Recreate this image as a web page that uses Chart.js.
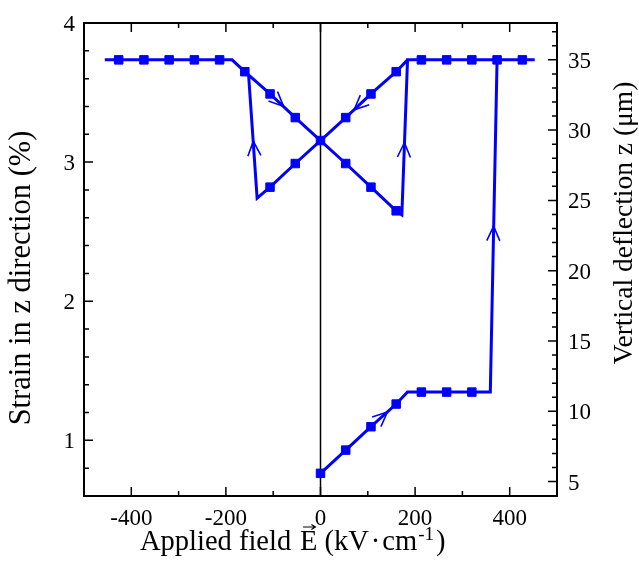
<!DOCTYPE html>
<html>
<head>
<meta charset="utf-8">
<script src="https://cdn.jsdelivr.net/npm/chart.js@4.4.1/dist/chart.umd.min.js"></script>
<style>
  body { margin: 0; background: #fff; }
  canvas { display: block; }
</style>
</head>
<body>
<canvas id="chart" width="639" height="572"></canvas>
<script>
// hysteresis path, in the order it was measured (kV/cm, %)
const pathE = [0, 53.3, 106.7, 160, 184, 213.3, 266.7, 320, 359, 373.3, 426.7, 453,
  184, 160, 106.7, 53.3, 0, -53.3, -106.7, -134, -152, -160, -187, -456,
  -187, -160, -106.7, -53.3, 0, 53.3, 106.7, 160, 172, 184, 213.3];
const pathS = [0.763, 0.93, 1.098, 1.261, 1.347, 1.347, 1.347, 1.347, 1.347, 3.735, 3.735, 3.735,
  3.735, 3.65, 3.49, 3.32, 3.155, 2.99, 2.82, 2.741, 3.625, 3.65, 3.735, 3.735,
  3.735, 3.65, 3.49, 3.32, 3.155, 2.99, 2.82, 2.65, 2.62, 3.735, 3.735];

// measured points (square markers)
const markE = [-426.7, -373.3, -320, -266.7, -213.3, 213.3, 266.7, 320, 373.3, 426.7,
  -160, -106.7, -53.3, 0, 53.3, 106.7, 160,
  160, 106.7, 53.3, -53.3, -106.7,
  0, 53.3, 106.7, 160, 213.3, 266.7, 320];
const markS = [3.735, 3.735, 3.735, 3.735, 3.735, 3.735, 3.735, 3.735, 3.735, 3.735,
  3.65, 3.49, 3.32, 3.155, 2.99, 2.82, 2.65,
  3.65, 3.49, 3.32, 2.99, 2.82,
  0.763, 0.93, 1.098, 1.261, 1.347, 1.347, 1.347];

// direction arrows: tip E, tip S, heading toward E, S
const arrows = [
  [-78, 3.40, -53.3, 3.32],
  [-142, 3.15, -152, 3.625],
  [71, 3.376, 53.3, 3.32],
  [177.5, 3.14, 184, 3.735],
  [366, 2.54, 373.3, 3.735],
  [141.4, 1.204, 160, 1.261]
];

// axes
const xRange = [-500, 500], xMinor = 100, xLabels = [-400, -200, 0, 200, 400];
const yRange = [0.6, 4], yMinor = 0.2, yLabels = [1, 2, 3, 4];
const y2Range = [3.97, 37.62], y2Minor = 1, y2Labels = [5, 10, 15, 20, 25, 30, 35];

const blue = '#0000ff';
const serif = "'Liberation Serif', serif";
const tickFont = '23px ' + serif;

function stepTicks(range, step) {
  const out = [];
  const start = Math.ceil(range[0] / step - 1e-9);
  const end = Math.floor(range[1] / step + 1e-9);
  for (let k = start; k <= end; k++) out.push({ value: Math.round(k * step * 1000) / 1000 });
  return out;
}

function isLabel(list, v) {
  return list.some(l => Math.abs(l - v) < 1e-6);
}

const framePlugin = {
  id: 'framePlugin',
  beforeDatasetsDraw(chart) {
    // vertical line at E = 0
    const { ctx, chartArea: a, scales } = chart;
    const x0 = scales.x.getPixelForValue(0);
    ctx.save();
    ctx.strokeStyle = '#000';
    ctx.lineWidth = 1.5;
    ctx.beginPath();
    ctx.moveTo(x0, a.top);
    ctx.lineTo(x0, a.bottom);
    ctx.stroke();
    ctx.restore();
  },
  afterDatasetsDraw(chart) {
    const { ctx, scales } = chart;
    ctx.save();
    ctx.strokeStyle = blue;
    ctx.lineWidth = 1.6;
    arrows.forEach(ar => {
      const tx = scales.x.getPixelForValue(ar[0]);
      const ty = scales.y.getPixelForValue(ar[1]);
      const dx = scales.x.getPixelForValue(ar[2]) - tx;
      const dy = scales.y.getPixelForValue(ar[3]) - ty;
      const ang = Math.atan2(dy, dx);
      const len = 16, spread = 0.42;
      ctx.beginPath();
      ctx.moveTo(tx - len * Math.cos(ang - spread), ty - len * Math.sin(ang - spread));
      ctx.lineTo(tx, ty);
      ctx.lineTo(tx - len * Math.cos(ang + spread), ty - len * Math.sin(ang + spread));
      ctx.stroke();
    });
    ctx.restore();
  },
  afterDraw(chart) {
    const { ctx, chartArea: a, scales } = chart;
    ctx.save();
    ctx.strokeStyle = '#000';
    ctx.lineWidth = 2;
    ctx.strokeRect(a.left, a.top, a.right - a.left, a.bottom - a.top);

    // inward tick marks
    ctx.lineWidth = 1.5;
    ctx.beginPath();
    scales.x.ticks.forEach(t => {
      const p = scales.x.getPixelForValue(t.value);
      if (p < a.left + 2 || p > a.right - 2) return;
      const len = isLabel(xLabels, t.value) ? 9 : 5;
      ctx.moveTo(p, a.bottom); ctx.lineTo(p, a.bottom - len);
      ctx.moveTo(p, a.top); ctx.lineTo(p, a.top + len);
    });
    scales.y.ticks.forEach(t => {
      const p = scales.y.getPixelForValue(t.value);
      if (p < a.top + 2 || p > a.bottom - 2) return;
      const len = isLabel(yLabels, t.value) ? 9 : 5;
      ctx.moveTo(a.left, p); ctx.lineTo(a.left + len, p);
    });
    scales.y2.ticks.forEach(t => {
      const p = scales.y2.getPixelForValue(t.value);
      if (p < a.top + 2 || p > a.bottom - 2) return;
      const len = isLabel(y2Labels, t.value) ? 9 : 5;
      ctx.moveTo(a.right, p); ctx.lineTo(a.right - len, p);
    });
    ctx.stroke();

    // tick labels
    ctx.fillStyle = '#000';
    ctx.font = tickFont;
    ctx.textBaseline = 'alphabetic';
    ctx.textAlign = 'center';
    xLabels.forEach(v => ctx.fillText(String(v), scales.x.getPixelForValue(v), a.bottom + 29));
    ctx.textAlign = 'right';
    yLabels.forEach(v => ctx.fillText(String(v), a.left - 9, scales.y.getPixelForValue(v) + 8));
    ctx.textAlign = 'left';
    y2Labels.forEach(v => ctx.fillText(String(v), a.right + 11, scales.y2.getPixelForValue(v) + 8));

    // axis titles
    ctx.save();
    ctx.font = '30.5px ' + serif;
    ctx.translate(30, 278);
    ctx.rotate(-Math.PI / 2);
    ctx.textAlign = 'center';
    ctx.fillText('Strain in z direction (%)', 0, 0);
    ctx.restore();

    ctx.save();
    ctx.font = '27.5px ' + serif;
    ctx.translate(632, 223);
    ctx.rotate(-Math.PI / 2);
    ctx.textAlign = 'center';
    ctx.fillText('Vertical deflection z (\u03bcm)', 0, 0);
    ctx.restore();

    // x title with vector E and superscript
    const big = '28.5px ' + serif, small = '19px ' + serif;
    const base = 550;
    ctx.textAlign = 'left';
    ctx.font = big;
    ctx.fillText('Applied field', 140, base);
    const ex = 300;
    ctx.fillText('E', ex, base);
    const ew = ctx.measureText('E').width;
    ctx.lineWidth = 1.2;
    ctx.beginPath();
    ctx.moveTo(ex + 3, base - 23); ctx.lineTo(ex + ew - 2, base - 23);
    ctx.moveTo(ex + ew - 6, base - 25.5); ctx.lineTo(ex + ew - 2, base - 23); ctx.lineTo(ex + ew - 6, base - 20.5);
    ctx.stroke();
    let x = ex + ew;
    ctx.fillText(' (kV', x, base);
    x += ctx.measureText(' (kV').width + 2;
    ctx.fillText('\u00b7', x, base);
    x += ctx.measureText('\u00b7').width + 2;
    ctx.fillText('cm', x, base);
    x += ctx.measureText('cm').width + 1;
    ctx.font = small;
    ctx.fillText('-1', x, base - 10);
    x += ctx.measureText('-1').width + 2;
    ctx.font = big;
    ctx.fillText(')', x, base);
    ctx.restore();
  }
};

new Chart(document.getElementById('chart'), {
  type: 'line',
  data: {
    datasets: [
      {
        data: pathE.map((e, i) => ({ x: e, y: pathS[i] })),
        borderColor: blue,
        borderWidth: 3,
        pointRadius: 0,
        tension: 0,
        yAxisID: 'y'
      },
      {
        data: markE.map((e, i) => ({ x: e, y: markS[i] })),
        showLine: false,
        pointStyle: 'rect',
        pointRadius: 6,
        borderWidth: 1,
        borderColor: blue,
        backgroundColor: blue,
        yAxisID: 'y'
      }
    ]
  },
  options: {
    responsive: false,
    animation: false,
    events: [],
    layout: { padding: { top: 23, left: 0, right: 0, bottom: 0 } },
    plugins: { legend: { display: false }, tooltip: { enabled: false } },
    scales: {
      x: {
        type: 'linear',
        min: xRange[0], max: xRange[1],
        grid: { display: false, drawTicks: false },
        border: { display: false },
        afterBuildTicks: s => { s.ticks = stepTicks(xRange, xMinor); },
        afterFit: s => { s.height = 76; },
        ticks: { display: false }
      },
      y: {
        position: 'left',
        min: yRange[0], max: yRange[1],
        grid: { display: false, drawTicks: false },
        border: { display: false },
        afterBuildTicks: s => { s.ticks = stepTicks(yRange, yMinor); },
        afterFit: s => { s.width = 84; },
        ticks: { display: false }
      },
      y2: {
        position: 'right',
        min: y2Range[0], max: y2Range[1],
        grid: { display: false, drawTicks: false },
        border: { display: false },
        afterBuildTicks: s => { s.ticks = stepTicks(y2Range, y2Minor); },
        afterFit: s => { s.width = 82; },
        ticks: { display: false }
      }
    }
  },
  plugins: [framePlugin]
});
</script>
</body>
</html>
